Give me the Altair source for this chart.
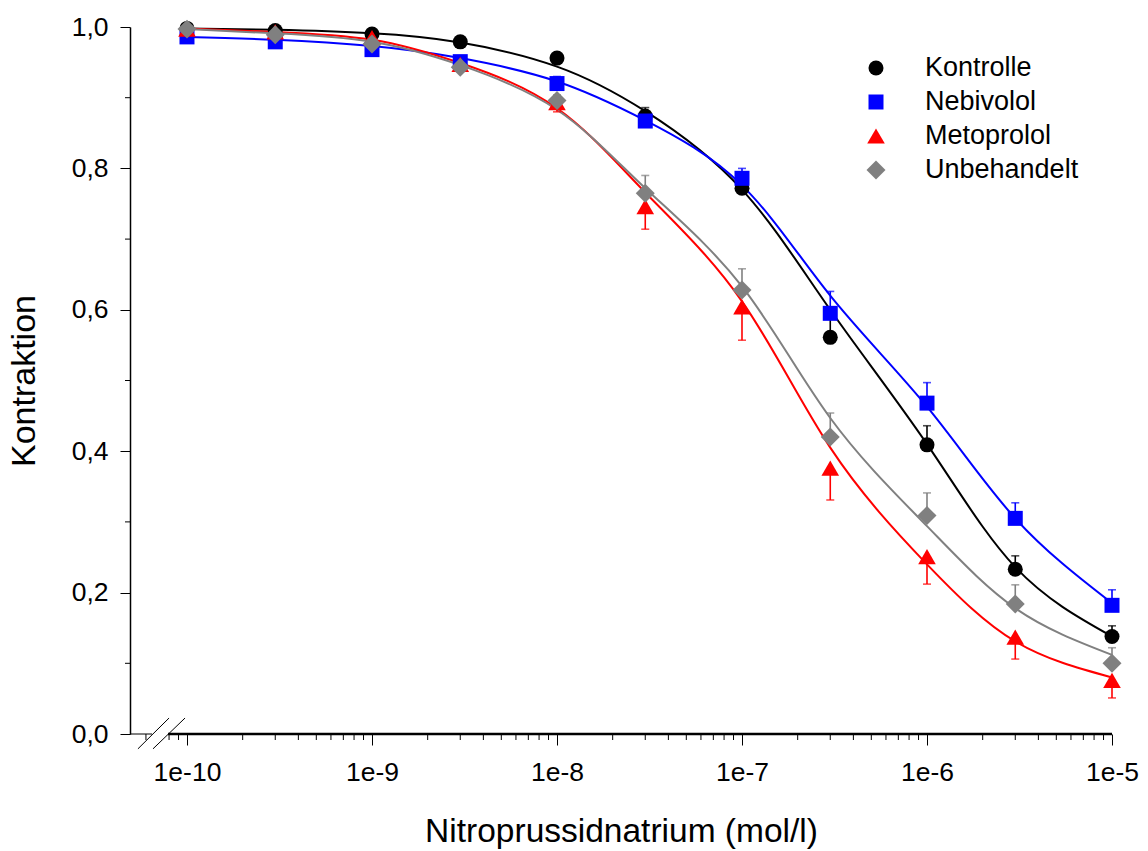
import altair as alt
import pandas as pd

# ---------------- data ----------------
conc = [1e-10, 3e-10, 1e-9, 3e-9, 1e-8, 3e-8, 1e-7, 3e-7, 1e-6, 3e-6, 1e-5]
series = ["Kontrolle", "Nebivolol", "Metoprolol", "Unbehandelt"]
colors = ["#000000", "#0000ff", "#ff0000", "#808080"]
shapes = ["circle", "square", "triangle-up", "diamond"]
sizes = [225, 225, 310, 360]

kontrolle = [0.998, 0.995, 0.990, 0.979, 0.956, 0.874, 0.772, 0.561, 0.409, 0.233, 0.138]
nebivolol = [0.986, 0.979, 0.968, 0.951, 0.920, 0.867, 0.786, 0.595, 0.468, 0.305, 0.182]
metoprolol = [0.997, 0.993, 0.985, 0.947, 0.893, 0.746, 0.604, 0.376, 0.251, 0.137, 0.076]
unbehandelt = [0.997, 0.989, 0.976, 0.943, 0.896, 0.765, 0.628, 0.420, 0.309, 0.184, 0.100]

kontrolle_err = [0.003, 0.003, 0.004, 0.004, 0.006, 0.012, 0.010, 0.035, 0.027, 0.019, 0.015]
nebivolol_err = [0.003, 0.003, 0.004, 0.004, 0.010, 0.008, 0.014, 0.031, 0.029, 0.022, 0.022]
metoprolol_err = [0.003, 0.003, 0.005, 0.010, 0.013, 0.032, 0.047, 0.045, 0.039, 0.031, 0.025]
unbehandelt_err = [0.003, 0.003, 0.004, 0.006, 0.008, 0.025, 0.030, 0.034, 0.032, 0.027, 0.022]
err_direction = [1, 1, -1, 1]

# fitted curves at half-decade steps
curve_x = [1e-10, 3e-10, 1e-9, 3e-9, 1e-8, 3e-8, 1e-7, 3e-7, 1e-6, 3e-6, 1e-5]
kontrolle_fit = [0.998, 0.996, 0.991, 0.978, 0.944, 0.881, 0.770, 0.600, 0.410, 0.236, 0.138]
nebivolol_fit = [0.986, 0.982, 0.973, 0.956, 0.923, 0.868, 0.776, 0.620, 0.463, 0.305, 0.185]
metoprolol_fit = [0.998, 0.993, 0.982, 0.949, 0.885, 0.766, 0.612, 0.405, 0.240, 0.131, 0.080]
unbehandelt_fit = [0.997, 0.991, 0.979, 0.946, 0.883, 0.772, 0.633, 0.447, 0.294, 0.178, 0.112]

x_ticks = [1e-10, 1e-9, 1e-8, 1e-7, 1e-6, 1e-5]
x_minor = [6e-11, 8e-11, 9e-11] + [m * 10.0 ** e for e in range(-10, -5) for m in range(2, 10)]
y_ticks = [0.0, 0.2, 0.4, 0.6, 0.8, 1.0]
y_minor = [0.1, 0.3, 0.5, 0.7, 0.9]

X_MIN, X_MAX = 4.92e-11, 1e-5
BREAK_LO, BREAK_HI = 6.47e-11, 7.9e-11

# ---------------- tables ----------------
values = [kontrolle, nebivolol, metoprolol, unbehandelt]
errors = [kontrolle_err, nebivolol_err, metoprolol_err, unbehandelt_err]
fits = [kontrolle_fit, nebivolol_fit, metoprolol_fit, unbehandelt_fit]

pts_rows, fit_rows = [], []
for k, (name, vals, errs, d) in enumerate(zip(series, values, errors, err_direction)):
    for c, v, e in zip(conc, vals, errs):
        pts_rows.append({"series": name, "conc": c, "value": v, "cap": v + d * e,
                         "sz": sizes[k], "ord": k})
for name, fv in zip(series, fits):
    for c, v in zip(curve_x, fv):
        fit_rows.append({"series": name, "conc": c, "value": v})
pts = pd.DataFrame(pts_rows)
fitdf = pd.DataFrame(fit_rows)
legend_df = pd.DataFrame({"series": series, "idx": list(range(len(series))), "sz": sizes})

axis_seg = pd.DataFrame({"conc": [X_MIN, BREAK_HI], "conc2": [BREAK_LO, X_MAX],
                         "value": [0.0, 0.0], "w": [1.0, 2.6]})
slashes = pd.DataFrame({"conc": [5.43e-11, 6.55e-11], "conc2": [8.0e-11, 9.76e-11],
                        "value": [-0.021, -0.021], "value2": [0.0226, 0.0226]})
xminor_df = pd.DataFrame({"conc": x_minor})
yminor_df = pd.DataFrame({"value": y_minor})

FONT = "Arial"
W, H = 982, 707

xscale = alt.Scale(type="log", domain=[X_MIN, X_MAX], nice=False)
yscale = alt.Scale(domain=[0, 1], nice=False, zero=False)
xaxis = alt.Axis(values=x_ticks, labelExpr="'1e' + round(log(datum.value) / LN10)",
                 domain=False, tickSize=11, tickWidth=1, tickColor="black",
                 labelFontSize=26.5, labelFont=FONT, labelColor="black", labelPadding=14,
                 grid=False, title="Nitroprussidnatrium (mol/l)", titleFont=FONT,
                 titleFontSize=33.5, titleFontWeight="normal", titleColor="black",
                 titlePadding=30, labelFlush=False)
yaxis = alt.Axis(values=y_ticks, labelExpr="replace(format(datum.value, '.1f'), '.', ',')",
                 domain=True, domainColor="black", domainWidth=1.5, tickSize=10, tickWidth=1,
                 tickColor="black", labelFontSize=26.5, labelFont=FONT, labelColor="black",
                 labelPadding=12, grid=False, title="Kontraktion", titleFont=FONT,
                 titleFontSize=34, titleFontWeight="normal", titleColor="black",
                 titlePadding=30, labelFlush=False)


def X(field="conc"):
    return alt.X(f"{field}:Q", scale=xscale, axis=xaxis)


def Y(field="value"):
    return alt.Y(f"{field}:Q", scale=yscale, axis=yaxis)


col_scale = alt.Scale(domain=series, range=colors)
shape_scale = alt.Scale(domain=series, range=shapes)

lines = alt.Chart(fitdf).mark_line(strokeWidth=2, interpolate="natural").encode(
    x=X(), y=Y(),
    stroke=alt.Stroke("series:N", scale=col_scale, legend=None),
    detail="series:N",
)

err_rules = alt.Chart(pts).mark_rule(strokeWidth=1.6).encode(
    x=X(), y=Y(), y2="cap:Q",
    stroke=alt.Stroke("series:N", scale=col_scale, legend=None),
)
err_caps = alt.Chart(pts).mark_tick(orient="horizontal", size=8, thickness=1.6).encode(
    x=X(), y=alt.Y("cap:Q", scale=yscale, axis=yaxis),
    fill=alt.Fill("series:N", scale=col_scale, legend=None),
)

points = alt.Chart(pts).mark_point(filled=True, opacity=1).encode(
    x=X(), y=Y(),
    color=alt.Color("series:N", scale=col_scale, legend=None),
    shape=alt.Shape("series:N", scale=shape_scale, legend=None),
    size=alt.Size("sz:Q", scale=None),
    order=alt.Order("ord:Q"),
)

# hand-made legend (top right, inside the plot)
LEG_X, LEG_Y0, LEG_DY, LEG_GAP = 746, 41, 34, 49
leg_symbols = alt.Chart(legend_df).mark_point(filled=True, opacity=1).transform_calculate(
    ly=f"{LEG_Y0} + {LEG_DY} * datum.idx"
).encode(
    x=alt.value(LEG_X),
    y=alt.Y("ly:Q", scale=None, axis=None),
    color=alt.Color("series:N", scale=col_scale, legend=None),
    shape=alt.Shape("series:N", scale=shape_scale, legend=None),
    size=alt.Size("sz:Q", scale=None),
)
leg_text = alt.Chart(legend_df).mark_text(
    align="left", baseline="middle", font=FONT, fontSize=27, color="black"
).transform_calculate(
    ly=f"{LEG_Y0} + {LEG_DY} * datum.idx"
).encode(
    x=alt.value(LEG_X + LEG_GAP),
    y=alt.Y("ly:Q", scale=None, axis=None),
    text="series:N",
)

axis_line = alt.Chart(axis_seg).mark_rule(color="black").encode(
    x=X(), x2="conc2:Q", y=Y(),
    strokeWidth=alt.StrokeWidth("w:Q", scale=None),
)
slash_marks = alt.Chart(slashes).mark_rule(color="black", strokeWidth=1).encode(
    x=X(), x2="conc2:Q", y=Y(), y2="value2:Q",
)
xminor_marks = alt.Chart(xminor_df).mark_rule(color="black", strokeWidth=1).encode(
    x=X(), y=alt.value(H), y2=alt.value(H + 6),
)
yminor_marks = alt.Chart(yminor_df).mark_rule(color="black", strokeWidth=1).encode(
    y=Y(), x=alt.value(-5), x2=alt.value(0),
)

chart = alt.layer(
    axis_line, slash_marks, xminor_marks, yminor_marks,
    lines, err_rules, err_caps, points, leg_symbols, leg_text,
).properties(
    width=W, height=H,
    autosize="none",
    background="white",
    padding={"left": 130, "top": 27, "right": 1148 - 130 - W, "bottom": 851 - 27 - H},
).configure_view(stroke=None)

chart.save("out.html", embed_options={"renderer": "svg", "actions": False})
